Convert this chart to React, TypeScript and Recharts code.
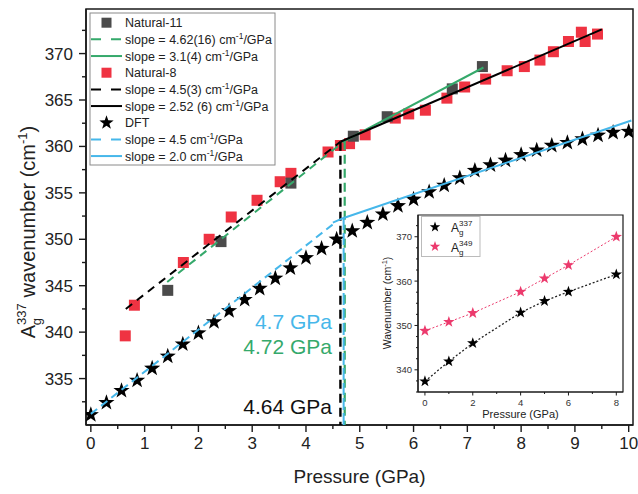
import React from 'react';
import { ComposedChart, Scatter, Line, XAxis, YAxis, ReferenceArea } from 'recharts';

const FONT = '"Liberation Sans", Arial, Helvetica, sans-serif';
const INK = '#1a1a1a';
const GREY = '#4b4b4b';
const RED = '#ef3342';
const GREEN = '#35a96b';
const BLUE = '#46b7ea';
const PINK = '#ec3a6d';

// ---- main panel data (pressure GPa / wavenumber cm-1)
const dftP = [0, 0.29, 0.57, 0.86, 1.14, 1.43, 1.71, 2.0, 2.29, 2.57, 2.86, 3.14, 3.43, 3.71, 4.0, 4.29, 4.57, 4.86,
  5.14, 5.43, 5.71, 6.0, 6.29, 6.57, 6.86, 7.14, 7.43, 7.71, 8.0, 8.29, 8.57, 8.86, 9.14, 9.43, 9.71, 10.0];
const dftW = [331.1, 332.4, 333.7, 334.8, 336.1, 337.4, 338.7, 339.9, 341.1, 342.3, 343.5, 344.7, 345.8, 346.9, 348.0, 349.0, 350.0, 350.9,
  351.8, 352.7, 353.6, 354.3, 355.1, 355.8, 356.6, 357.4, 358.0, 358.5, 359.1, 359.6, 360.1, 360.4, 360.8, 361.2, 361.5, 361.6];

const nat8P = [0.64, 0.81, 1.72, 2.2, 2.61, 3.09, 3.52, 3.72, 4.41, 4.64, 4.81, 5.1, 5.66, 5.91, 6.22, 6.62, 6.95,
  7.34, 7.74, 8.06, 8.35, 8.6, 8.88, 9.12, 9.19, 9.42];
const nat8W = [339.6, 342.9, 347.5, 350.0, 352.4, 354.2, 356.2, 357.1, 359.4, 360.1, 360.3, 361.25, 363.05, 363.5, 363.9, 365.2, 366.4,
  367.25, 368.15, 368.6, 369.3, 370.2, 371.3, 372.3, 371.3, 372.1];

const nat11P = [1.43, 2.42, 3.72, 4.88, 5.51, 6.72, 7.28];
const nat11W = [344.5, 349.75, 356.05, 361.1, 363.2, 366.2, 368.6];

// linear fits, two end points each
const nat11LowP = [1.42, 4.72];
const nat11LowW = [345.4, 360.6];
const nat11HighP = [4.72, 7.3];
const nat11HighW = [360.6, 368.5];
const nat8LowP = [0.65, 4.64];
const nat8LowW = [342.5, 360.5];
const nat8HighP = [4.64, 9.5];
const nat8HighW = [360.5, 372.6];
const dftLowP = [0, 4.5];
const dftLowW = [331.2, 351.6];
const dftHighP = [4.5, 4.7, 10.05];
const dftHighW = [351.8, 352.3, 362.8];

// transition markers
const trans11P = [4.72, 4.72];
const trans11W = [360.6, 330];
const trans8P = [4.64, 4.64];
const trans8W = [360.5, 330];
const transDftP = [4.7, 4.7];
const transDftW = [352.3, 330];

const pressureTicks = [0, 0.5, 1, 1.5, 2, 2.5, 3, 3.5, 4, 4.5, 5, 5.5, 6, 6.5, 7, 7.5, 8, 8.5, 9, 9.5, 10];
const waveTicks = [332.5, 335, 337.5, 340, 342.5, 345, 347.5, 350, 352.5, 355, 357.5, 360, 362.5, 365, 367.5, 370, 372.5];

// ---- inset data
const insetP = [0, 1, 2, 4, 5, 6, 8];
const ag337 = [337.4, 341.9, 346.0, 352.9, 355.5, 357.6, 361.5];
const ag349 = [348.8, 350.8, 352.8, 357.6, 360.6, 363.6, 370.0];
const insetPTicks = [0, 1, 2, 3, 4, 5, 6, 7, 8];
const insetWTicks = [335, 337.5, 340, 342.5, 345, 347.5, 350, 352.5, 355, 357.5, 360, 362.5, 365, 367.5, 370, 372.5];

const zip = (xs: number[], ys: number[]) => xs.map((x, i) => ({ x, y: ys[i] }));

const starPath = (cx: number, cy: number, r: number) => {
  const pts: string[] = [];
  for (let i = 0; i < 10; i++) {
    const a = -Math.PI / 2 + (i * Math.PI) / 5;
    const rr = i % 2 === 0 ? r : r * 0.4;
    pts.push(`${(cx + rr * Math.cos(a)).toFixed(2)},${(cy + rr * Math.sin(a)).toFixed(2)}`);
  }
  return 'M' + pts.join('L') + 'Z';
};

const PressureTick = ({ x, y, payload }: any) => {
  const major = Number.isInteger(payload.value);
  return (
    <g>
      <line x1={x} x2={x} y1={y} y2={y + (major ? 7 : 4)} stroke={INK} strokeWidth={1.4} />
      {major && (
        <text x={x} y={y + 24} textAnchor="middle" fontSize={17} fill="#222" fontFamily={FONT}>
          {payload.value}
        </text>
      )}
    </g>
  );
};

const WaveTick = ({ x, y, payload }: any) => {
  const major = payload.value % 5 === 0;
  return (
    <g>
      <line x1={x} x2={x - (major ? 7 : 4)} y1={y} y2={y} stroke={INK} strokeWidth={1.4} />
      {major && (
        <text x={x - 13} y={y + 6} textAnchor="end" fontSize={17} fill="#222" fontFamily={FONT}>
          {payload.value}
        </text>
      )}
    </g>
  );
};

const InsetPTick = ({ x, y, payload }: any) => {
  const major = payload.value % 2 === 0;
  return (
    <g>
      <line x1={x} x2={x} y1={y} y2={y + (major ? 3.5 : 2)} stroke={INK} strokeWidth={1} />
      {major && (
        <text x={x} y={y + 14} textAnchor="middle" fontSize={9.5} fill="#333" fontFamily={FONT}>
          {payload.value}
        </text>
      )}
    </g>
  );
};

const InsetWTick = ({ x, y, payload }: any) => {
  const major = payload.value % 10 === 0;
  return (
    <g>
      <line x1={x} x2={x - (major ? 3.5 : 2)} y1={y} y2={y} stroke={INK} strokeWidth={1} />
      {major && (
        <text x={x - 6} y={y + 3.5} textAnchor="end" fontSize={9.5} fill="#333" fontFamily={FONT}>
          {payload.value}
        </text>
      )}
    </g>
  );
};

const fitLine = (key: string, pts: { x: number; y: number }[], color: string, dash?: string, width = 2) => (
  <Line
    key={key}
    data={pts}
    dataKey="y"
    type="linear"
    stroke={color}
    strokeWidth={width}
    strokeDasharray={dash}
    dot={false}
    activeDot={false}
    legendType="none"
    zIndex={700}
    isAnimationActive={false}
  />
);

function MainChart() {
  return (
    <ComposedChart width={638} height={494} margin={{ top: 9, right: 5, bottom: 9, left: 36 }}>
      <XAxis
        dataKey="x"
        type="number"
        domain={[-0.09, 10.08]}
        allowDataOverflow
        ticks={pressureTicks}
        interval={0}
        tick={<PressureTick />}
        tickLine={false}
        tickSize={0}
        tickMargin={0}
        axisLine={{ stroke: INK, strokeWidth: 1.5 }}
        height={60}
        label={{ value: 'Pressure (GPa)', position: 'insideBottom', offset: 2, fontSize: 19, fill: '#222', fontFamily: FONT }}
      />
      <YAxis
        dataKey="y"
        type="number"
        domain={[330, 374.8]}
        allowDataOverflow
        ticks={waveTicks}
        interval={0}
        tick={<WaveTick />}
        tickLine={false}
        tickSize={0}
        tickMargin={0}
        axisLine={{ stroke: INK, strokeWidth: 1.5 }}
        width={50}
      />
      <ReferenceArea x1={-0.09} x2={10.08} y1={330} y2={374.8} fill="none" stroke={INK} strokeWidth={1.5} />

      <Scatter
        data={zip(dftP, dftW)}
        isAnimationActive={false}
        shape={(p: any) => <path d={starPath(p.cx, p.cy, 8.5)} fill="#000" />}
      />
      <Scatter
        data={zip(nat8P, nat8W)}
        isAnimationActive={false}
        shape={(p: any) => <rect x={p.cx - 5.5} y={p.cy - 5.5} width={11} height={11} fill={RED} />}
      />
      <Scatter
        data={zip(nat11P, nat11W)}
        isAnimationActive={false}
        shape={(p: any) => <rect x={p.cx - 5.5} y={p.cy - 5.5} width={11} height={11} fill={GREY} />}
      />

      {fitLine('t11', zip(trans11P, trans11W), GREEN, '9 5', 2.2)}
      {fitLine('t8', zip(trans8P, trans8W), '#000', '9 5', 2.4)}
      {fitLine('tdft', zip(transDftP, transDftW), BLUE, '12 3', 2)}
      {fitLine('n11a', zip(nat11LowP, nat11LowW), GREEN, '8 6')}
      {fitLine('n11b', zip(nat11HighP, nat11HighW), GREEN)}
      {fitLine('n8a', zip(nat8LowP, nat8LowW), '#000', '8 6')}
      {fitLine('n8b', zip(nat8HighP, nat8HighW), '#000')}
      {fitLine('da', zip(dftLowP, dftLowW), BLUE, '8 5')}
      {fitLine('db', zip(dftHighP, dftHighW), BLUE)}
    </ComposedChart>
  );
}

function InsetChart() {
  return (
    <ComposedChart width={258} height={210} margin={{ top: 5, right: 5, bottom: 0, left: 18 }}>
      <XAxis
        dataKey="x"
        type="number"
        domain={[-0.29, 8.28]}
        allowDataOverflow
        ticks={insetPTicks}
        interval={0}
        tick={<InsetPTick />}
        tickLine={false}
        tickSize={0}
        tickMargin={0}
        axisLine={{ stroke: INK, strokeWidth: 1.2 }}
        height={28}
        label={{ value: 'Pressure (GPa)', position: 'insideBottom', offset: 2, fontSize: 11, fill: '#222', fontFamily: FONT }}
      />
      <YAxis
        dataKey="y"
        type="number"
        domain={[335, 374.9]}
        allowDataOverflow
        ticks={insetWTicks}
        interval={0}
        tick={<InsetWTick />}
        tickLine={false}
        tickSize={0}
        tickMargin={0}
        axisLine={{ stroke: INK, strokeWidth: 1.2 }}
        width={30}
      />
      <ReferenceArea x1={-0.29} x2={8.28} y1={335} y2={374.9} fill="#fff" fillOpacity={1} stroke={INK} strokeWidth={1.2} />
      <Line
        data={zip(insetP, ag349)}
        dataKey="y"
        type="linear"
        stroke={PINK}
        strokeWidth={1}
        strokeDasharray="2 2"
        dot={(p: any) => <path key={`p${p.index}`} d={starPath(p.cx, p.cy, 6)} fill={PINK} />}
        activeDot={false}
        isAnimationActive={false}
      />
      <Line
        data={zip(insetP, ag337)}
        dataKey="y"
        type="linear"
        stroke="#222"
        strokeWidth={1.3}
        strokeDasharray="2 2"
        dot={(p: any) => <path key={`b${p.index}`} d={starPath(p.cx, p.cy, 6)} fill="#000" />}
        activeDot={false}
        isAnimationActive={false}
      />
    </ComposedChart>
  );
}

const legendRows = [
  { kind: 'square', color: GREY, label: 'Natural-11' },
  { kind: 'dash', color: GREEN, label: 'slope = 4.62(16) cm', unit: true },
  { kind: 'solid', color: GREEN, label: 'slope = 3.1(4) cm', unit: true },
  { kind: 'square', color: RED, label: 'Natural-8' },
  { kind: 'dash', color: '#000', label: 'slope = 4.5(3) cm', unit: true },
  { kind: 'solid', color: '#000', label: 'slope = 2.52 (6) cm', unit: true },
  { kind: 'star', color: '#000', label: 'DFT' },
  { kind: 'dash', color: BLUE, label: 'slope = 4.5 cm', unit: true },
  { kind: 'solid', color: BLUE, label: 'slope = 2.0 cm', unit: true },
];

function Overlay() {
  return (
    <svg width={638} height={494} style={{ position: 'absolute', left: 0, top: 0, pointerEvents: 'none' }} fontFamily={FONT}>
      {/* y axis title */}
      <text transform="rotate(-90, 35, 232)" x={35} y={232} textAnchor="middle" fontSize={20} fill="#222">
        A<tspan fontSize={13} dy={-9}>337</tspan>
        <tspan fontSize={13} dx={-22} dy={15}>g</tspan>
        <tspan dx={15} dy={-6}> wavenumber (cm</tspan>
        <tspan fontSize={13} dy={-8}>-1</tspan>
        <tspan dy={8}>)</tspan>
      </text>

      {/* main legend */}
      <rect x={90} y={13} width={185} height={152} fill="#fff" stroke="#8a8a8a" strokeWidth={1} />
      {legendRows.map((r, i) => {
        const yc = 22.7 + i * 16.67;
        let icon: React.ReactNode = null;
        if (r.kind === 'square') icon = <rect x={101.5} y={yc - 5} width={10} height={10} fill={r.color} />;
        if (r.kind === 'star') icon = <path d={starPath(106.5, yc, 7.5)} fill="#000" />;
        if (r.kind === 'dash')
          icon = <line x1={91} x2={122} y1={yc} y2={yc} stroke={r.color} strokeWidth={2} strokeDasharray="10 10" />;
        if (r.kind === 'solid') icon = <line x1={91} x2={122} y1={yc} y2={yc} stroke={r.color} strokeWidth={2} />;
        return (
          <g key={i}>
            {icon}
            <text x={125} y={yc + 4.5} fontSize={12.5} fill="#222">
              {r.label}
              {r.unit && (
                <>
                  <tspan fontSize={8.5} dy={-5}>-1</tspan>
                  <tspan dy={5}>/GPa</tspan>
                </>
              )}
            </text>
          </g>
        );
      })}

      {/* transition pressures */}
      <text x={332} y={329} textAnchor="end" fontSize={21} fill={BLUE}>4.7 GPa</text>
      <text x={332} y={354} textAnchor="end" fontSize={21} fill={GREEN}>4.72 GPa</text>
      <text x={332} y={414} textAnchor="end" fontSize={21} fill="#111">4.64 GPa</text>

      {/* inset y title */}
      <text transform="rotate(-90, 391, 303)" x={391} y={303} textAnchor="middle" fontSize={10.5} fill="#222">
        Wavenumber (cm<tspan fontSize={7.5} dy={-4}>-1</tspan>
        <tspan dy={4}>)</tspan>
      </text>

      {/* inset legend */}
      <rect x={421.5} y={216.5} width={58.5} height={40} fill="#fff" stroke="#bbb" strokeWidth={1} />
      <path d={starPath(435, 227, 5.5)} fill="#000" />
      <text x={451} y={232} fontSize={12} fill="#222">
        A<tspan fontSize={8} dy={-6}>337</tspan>
        <tspan fontSize={8} dx={-13.5} dy={9}>g</tspan>
      </text>
      <path d={starPath(435, 246.5, 5.5)} fill={PINK} />
      <text x={451} y={251.5} fontSize={12} fill="#222">
        A<tspan fontSize={8} dy={-6}>349</tspan>
        <tspan fontSize={8} dx={-13.5} dy={9}>g</tspan>
      </text>
    </svg>
  );
}

export default function App() {
  return (
    <div style={{ position: 'absolute', left: 0, top: 0, width: 638, height: 494, background: '#fff', fontFamily: FONT }}>
      <MainChart />
      <div style={{ position: 'absolute', left: 370, top: 210 }}>
        <InsetChart />
      </div>
      <Overlay />
    </div>
  );
}
